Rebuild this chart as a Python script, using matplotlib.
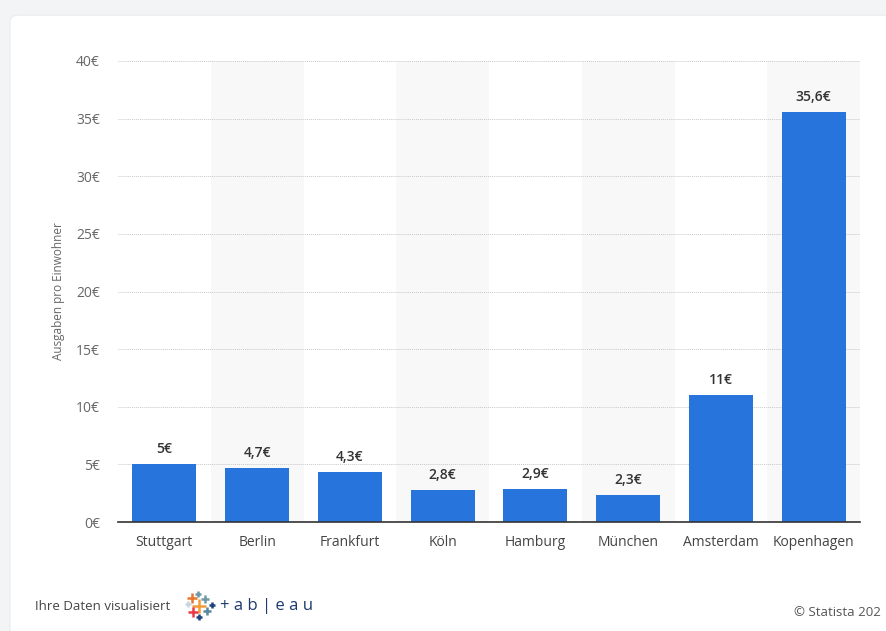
import matplotlib.pyplot as plt
from matplotlib.patches import FancyBboxPatch
from matplotlib.lines import Line2D

# Daten
staedte = ["Stuttgart", "Berlin", "Frankfurt", "Köln", "Hamburg", "München", "Amsterdam", "Kopenhagen"]
ausgaben = [5.0, 4.7, 4.3, 2.8, 2.9, 2.3, 11.0, 35.6]
ticks = [0, 5, 10, 15, 20, 25, 30, 35, 40]

plt.rcParams["font.family"] = ["Open Sans", "DejaVu Sans"]

fig = plt.figure(figsize=(8.86, 6.31), dpi=100)
fig.patch.set_facecolor("#f3f4f6")

# weisse Karte
card = FancyBboxPatch((10 / 886, -0.05), 1.0, 1.026, boxstyle="round,pad=0,rounding_size=0.01",
                      transform=fig.transFigure, facecolor="white", edgecolor="#e9ebee", lw=0.8, zorder=-10)
fig.add_artist(card)

ax = fig.add_axes([118 / 886, 1 - 522 / 631, (860 - 118) / 886, (522 - 61) / 631])
ax.set_facecolor("none")

x = list(range(len(staedte)))
# abwechselnde Hintergrundstreifen
for i in x:
    if i % 2 == 1:
        ax.axvspan(i - 0.5, i + 0.5, color="#f8f8f8", zorder=0, lw=0)

ax.bar(x, ausgaben, width=0.69, color="#2775dc", zorder=3)

for i, v in zip(x, ausgaben):
    lbl = (f"{v:.1f}".replace(".", ",") if v != int(v) else f"{int(v)}") + "€"
    ax.text(i, v + 0.7, lbl, ha="center", va="bottom", fontsize=10,
            fontweight="semibold", color="#333333", zorder=4)

ax.set_xlim(-0.5, len(staedte) - 0.5)
ax.set_ylim(0, 40)
ax.set_yticks(ticks)
ax.set_yticklabels([f"{t}€" for t in ticks])
ax.set_xticks(x)
ax.set_xticklabels(staedte)
ax.yaxis.grid(True, linestyle=(0, (1, 1)), color="#c8c8c8", lw=0.7, zorder=1)
ax.set_axisbelow(True)
for s in ["top", "right", "left"]:
    ax.spines[s].set_visible(False)
ax.spines["bottom"].set_color("#333333")
ax.spines["bottom"].set_linewidth(1.2)
ax.spines["bottom"].set_zorder(5)
ax.tick_params(axis="y", length=0, pad=13, labelsize=10, labelcolor="#666666")
ax.tick_params(axis="x", length=0, pad=9, labelsize=10, labelcolor="#444444")
ax.set_ylabel("Ausgaben pro Einwohner", fontsize=8.5, color="#666666", labelpad=8)

# Fusszeile
fig.text(35 / 886, 1 - 606 / 631, "Ihre Daten visualisiert", fontsize=9.5, color="#444444", va="center")
plus = [(192, 598, "#e8762c", 7), (198, 594, "#7099a6", 5), (205, 599, "#7099a6", 6),
        (188, 604, "#c9d5dc", 4), (199, 606, "#f29c38", 10), (212, 605, "#1f447e", 4),
        (193, 612, "#eb3b49", 7), (207, 611, "#59879b", 6), (199, 617, "#1f447e", 5)]
for px, py, c, s in plus:
    fig.add_artist(Line2D([px / 886], [1 - py / 631], marker="+", color=c, markersize=s,
                          markeredgewidth=1.8, transform=fig.transFigure))
fig.text(220 / 886, 1 - 606 / 631, "+ a b | e a u", fontsize=12, color="#1f3a6e",
         va="center")
fig.text(794 / 886, 1 - 613 / 631, "© Statista 202", fontsize=9.5, color="#555555", va="center")

fig.savefig("out.png", dpi=100, facecolor=fig.get_facecolor())
